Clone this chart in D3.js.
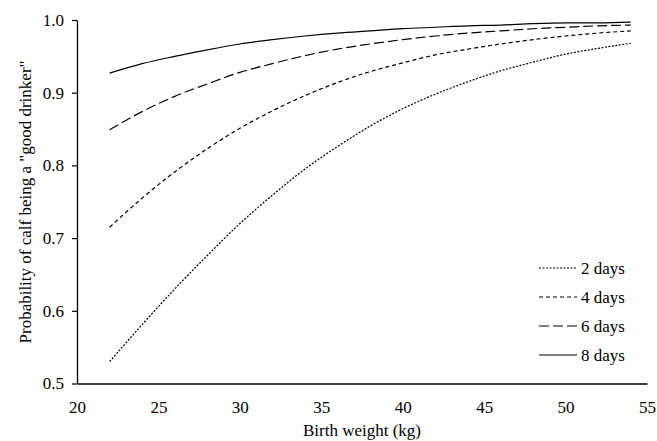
<!DOCTYPE html>
<html><head><meta charset="utf-8">
<script src="https://cdn.jsdelivr.net/npm/d3@7"></script>
<style>body{margin:0;background:#fff}svg{display:block}</style>
</head><body><svg id="c" width="657" height="441"></svg>
<script>
const birthWeight = [22,24,26,28,30,32,34,36,38,40,42,44,46,48,50,52,54];
const days2 = [0.530,0.581,0.630,0.676,0.720,0.759,0.795,0.826,0.854,0.878,0.898,0.915,0.930,0.942,0.953,0.961,0.968];
const days4 = [0.715,0.755,0.791,0.823,0.851,0.875,0.896,0.914,0.929,0.941,0.952,0.960,0.967,0.973,0.978,0.982,0.985];
const days6 = [0.849,0.874,0.895,0.912,0.928,0.940,0.951,0.960,0.967,0.973,0.978,0.982,0.985,0.988,0.990,0.992,0.993];
const days8 = [0.927,0.940,0.950,0.959,0.967,0.973,0.978,0.982,0.985,0.988,0.990,0.992,0.993,0.995,0.996,0.996,0.997];
const seriesNames = ["2 days","4 days","6 days","8 days"];
const xTicks = [20,25,30,35,40,45,50,55];
const yTicks = [0.5,0.6,0.7,0.8,0.9,1.0];

const FONT = "'Liberation Serif', 'Times New Roman', Tinos, 'DejaVu Serif', serif";
const series = [days2,days4,days6,days8];
const dashes = ["2,1.5","4,3","10,4",null];
const svg = d3.select("#c");
const x = d3.scaleLinear().domain([20,55]).range([77,647]);
const y = d3.scaleLinear().domain([0.5,1.0]).range([383.5,20]);

// y axis
const ya = svg.append("g").attr("transform","translate(77,0)")
  .call(d3.axisLeft(y).tickValues(yTicks).tickFormat(d3.format(".1f")).tickSize(5).tickSizeOuter(0));
ya.attr("font-family",null).attr("font-size",null);
ya.select(".domain").attr("stroke","#000").attr("stroke-width",1.3);
ya.selectAll(".tick line").attr("stroke","#000").attr("stroke-width",1.2);
ya.selectAll(".tick text").attr("x",-13).style("font-family",FONT).style("font-size","17px").attr("fill","#000");

// x axis
const xa = svg.append("g").attr("transform","translate(0,383.5)")
  .call(d3.axisBottom(x).tickValues(xTicks).tickSize(0).tickPadding(17).tickSizeOuter(0));
xa.attr("font-family",null).attr("font-size",null);
xa.select(".domain").attr("stroke","#000").attr("stroke-width",1.3);
xa.selectAll(".tick text").style("font-family",FONT).style("font-size","17px").attr("fill","#000");

// titles
svg.append("text").attr("x",362).attr("y",436).attr("text-anchor","middle")
  .style("font-family",FONT).style("font-size","17px").text("Birth weight (kg)");
svg.append("text").attr("transform","translate(31,202) rotate(-90)").attr("text-anchor","middle")
  .style("font-family",FONT).style("font-size","17px")
  .text("Probability of calf being a \"good drinker\"");

// lines
const line = d3.line().x((d,i)=>x(birthWeight[i])).y(d=>y(d)).curve(d3.curveMonotoneX);
series.forEach((s,k)=>{
  svg.append("path").datum(s).attr("d",line).attr("fill","none").attr("stroke","#000")
    .attr("stroke-width",1.2).attr("stroke-dasharray",dashes[k]);
});

// legend
const legY = [268,297,326,355];
seriesNames.forEach((n,k)=>{
  svg.append("line").attr("x1",539).attr("x2",577).attr("y1",legY[k]).attr("y2",legY[k])
    .attr("stroke","#000").attr("stroke-width",1.2).attr("stroke-dasharray",dashes[k]);
  svg.append("text").attr("x",581).attr("y",legY[k]).attr("dy","0.35em")
    .style("font-family",FONT).style("font-size","17px").text(n);
});
</script></body></html>
